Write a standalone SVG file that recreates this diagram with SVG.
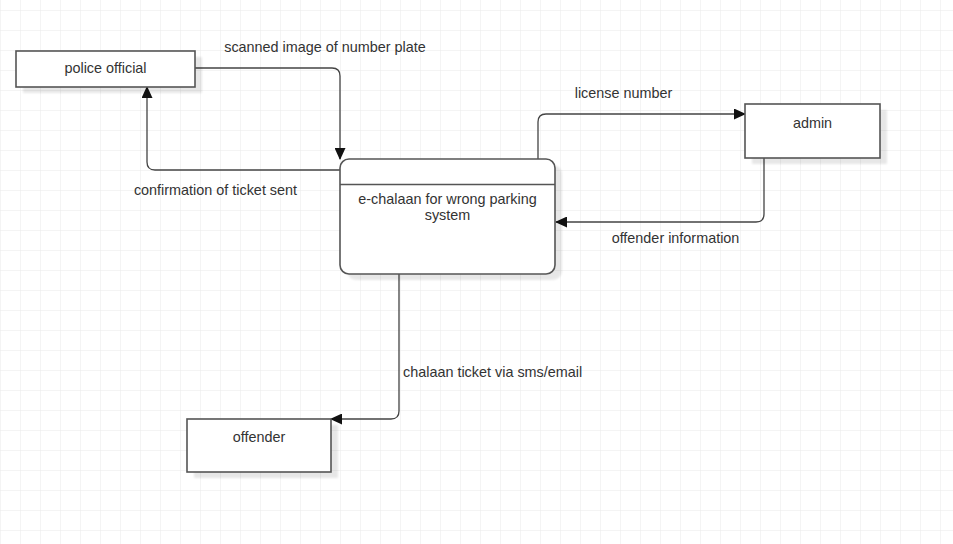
<svg xmlns="http://www.w3.org/2000/svg" width="953" height="544" viewBox="0 0 953 544">
<defs>
<pattern id="grid" x="0" y="10" width="20" height="20" patternUnits="userSpaceOnUse">
<path d="M 20 0 L 0 0 0 20" fill="none" stroke="#e9e9e9" stroke-width="1"/>
</pattern>
<marker id="arr" viewBox="0 0 12 11" refX="11" refY="5.5" markerWidth="12" markerHeight="11" markerUnits="userSpaceOnUse" orient="auto">
<path d="M0,0 L12,5.5 L0,11 Z" fill="#111"/>
</marker>
<filter id="sh" x="-10%" y="-10%" width="130%" height="140%">
<feGaussianBlur stdDeviation="1.2"/>
</filter>
</defs>
<style>
.box{fill:#fff;stroke:#555;stroke-width:1.6}
.shadow{fill:#000;opacity:0.09}
.lbl{font-family:"Liberation Sans",Arial,sans-serif;font-size:14.4px;fill:#333}
.edge{fill:none;stroke:#444;stroke-width:1.3}
</style>
<rect width="953" height="544" fill="#fff"/>
<rect width="953" height="544" fill="url(#grid)"/>

<g id="connectors">
<path class="edge" d="M195,68 H332 Q340,68 340,76 V159" marker-end="url(#arr)"/>
<path class="edge" d="M340,170 H155 Q147,170 147,162 V87" marker-end="url(#arr)"/>
<path class="edge" d="M538,159 V122 Q538,114 546,114 H745" marker-end="url(#arr)"/>
<path class="edge" d="M764,158 V214 Q764,222 756,222 H556" marker-end="url(#arr)"/>
<path class="edge" d="M399,274 V411 Q399,419 391,419 H331" marker-end="url(#arr)"/>
<text class="lbl" x="325" y="52" text-anchor="middle">scanned image of number plate</text>
<text class="lbl" x="215.5" y="195" text-anchor="middle">confirmation of ticket sent</text>
<text class="lbl" x="623.5" y="98" text-anchor="middle">license number</text>
<text class="lbl" x="675.5" y="243" text-anchor="middle">offender information</text>
<text class="lbl" x="403" y="377">chalaan ticket via sms/email</text>
</g>

<g id="police">
<rect class="shadow" x="23" y="57" width="179" height="36" filter="url(#sh)"/>
<rect class="box" x="16" y="51" width="179" height="36"/>
<text class="lbl" x="105.5" y="73" text-anchor="middle">police official</text>
</g>

<g id="system">
<rect class="shadow" x="347" y="165" width="215" height="115" rx="9" filter="url(#sh)"/>
<rect class="box" x="340" y="159" width="215" height="115" rx="9"/>
<line x1="340" y1="184.5" x2="555" y2="184.5" stroke="#555" stroke-width="1.6"/>
<text class="lbl" x="447.5" y="204" text-anchor="middle">e-chalaan for wrong parking</text>
<text class="lbl" x="447.5" y="219.5" text-anchor="middle">system</text>
</g>

<g id="admin">
<rect class="shadow" x="752" y="110" width="135" height="54" filter="url(#sh)"/>
<rect class="box" x="745" y="104" width="135" height="54"/>
<text class="lbl" x="812.5" y="128" text-anchor="middle">admin</text>
</g>

<g id="offender">
<rect class="shadow" x="194" y="425" width="144" height="53" filter="url(#sh)"/>
<rect class="box" x="187" y="419" width="144" height="53"/>
<text class="lbl" x="259" y="442" text-anchor="middle">offender</text>
</g>
</svg>
